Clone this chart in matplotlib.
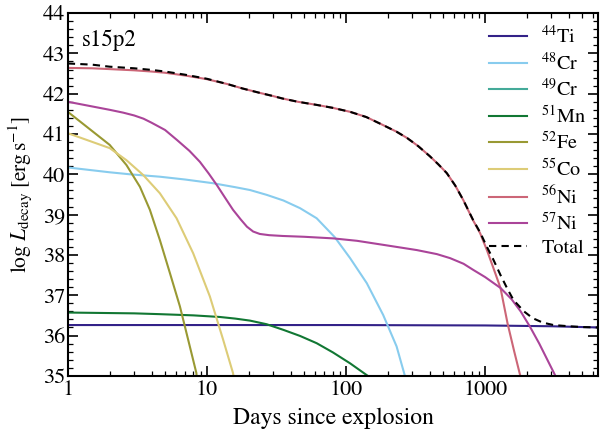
import matplotlib
matplotlib.use("Agg")
import matplotlib.pyplot as plt
import numpy as np
from matplotlib.ticker import MultipleLocator, LogLocator, NullFormatter

plt.rcParams['font.family'] = ['STIXGeneral', 'DejaVu Serif']
plt.rcParams['mathtext.fontset'] = 'stix'

# values (days, log L)
ti44_t = [1, 10, 100, 1000, 3000, 6500]
ti44_L = [36.26, 36.26, 36.26, 36.25, 36.23, 36.20]

cr48_t = [1, 2, 2.8, 4.6, 7, 11, 16, 20.4, 26.9, 35.5, 46.7, 61.5, 83, 107, 141, 185, 231, 266]
cr48_L = [40.17, 40.05, 40.0, 39.94, 39.87, 39.78, 39.68, 39.61, 39.49, 39.35, 39.16, 38.91,
          38.44, 37.92, 37.30, 36.51, 35.73, 34.98]

cr49_t = [1, 2, 5]
cr49_L = [34.5, 34.0, 33.0]

mn51_t = [1, 3, 4.6, 8, 12.4, 16, 20.4, 26.9, 35.5, 46.7, 61.5, 80.6, 107, 146]
mn51_L = [36.57, 36.55, 36.53, 36.50, 36.46, 36.42, 36.37, 36.28, 36.14, 35.99, 35.81,
          35.58, 35.31, 34.98]

fe52_t = [1, 2.0, 2.64, 3.30, 3.89, 4.59, 5.42, 6.40, 7.34, 8.4, 8.55]
fe52_L = [41.55, 40.73, 40.23, 39.69, 39.12, 38.37, 37.55, 36.72, 35.89, 35.07, 34.7]

co55_t = [1, 2.0, 2.64, 3.49, 4.59, 6.05, 7.97, 10.5, 13.1, 15.4, 15.8]
co55_L = [41.02, 40.65, 40.35, 39.98, 39.53, 38.91, 38.04, 36.97, 35.89, 35.07, 34.85]

ni56_t = [1, 1.5, 2, 3, 4, 5, 7, 10, 14, 18, 24, 30, 35, 45, 62, 80, 107, 140, 185, 230,
          275, 330, 400, 460, 530, 610, 697, 816, 920, 1030, 1140, 1290, 1450, 1620, 1790]
ni56_L = [42.64, 42.63, 42.61, 42.58, 42.55, 42.52, 42.45, 42.36, 42.24, 42.13, 42.02, 41.94,
          41.88, 41.80, 41.72, 41.65, 41.55, 41.42, 41.22, 41.06, 40.90, 40.70, 40.45, 40.25,
          40.03, 39.72, 39.36, 38.87, 38.54, 38.12, 37.70, 37.18, 36.30, 35.60, 35.0]

ni57_t = [1, 2, 2.5, 3, 3.5, 4, 5, 6.1, 7.5, 8.9, 10.3, 11.8, 13.5, 15.4, 17.5, 19.4, 21.5,
          24, 28, 35, 50, 81, 120, 185, 250, 323, 450, 560, 700, 820, 1000, 1290, 1550,
          1800, 2100, 2450, 2800, 3200]
ni57_L = [41.8, 41.6, 41.53, 41.46, 41.38, 41.28, 41.1, 40.85, 40.58, 40.31, 40.02, 39.73,
          39.42, 39.12, 38.88, 38.70, 38.58, 38.52, 38.49, 38.47, 38.45, 38.41, 38.35, 38.25,
          38.18, 38.12, 38.02, 37.92, 37.78, 37.63, 37.45, 37.18, 36.9, 36.6, 36.22, 35.8,
          35.4, 35.0]

tot_t = [1, 1.5, 2, 3, 4, 5, 7, 10, 14, 18, 24, 30, 35, 45, 62, 80, 107, 140, 185, 230,
         275, 330, 400, 460, 530, 610, 697, 816, 920, 1030, 1140, 1290, 1450, 1600, 1900,
         2200, 2600, 3100, 4000, 5000, 6500]
tot_L = [42.75, 42.72, 42.67, 42.63, 42.59, 42.55, 42.47, 42.37, 42.24, 42.13, 42.02, 41.94,
         41.88, 41.80, 41.72, 41.65, 41.55, 41.42, 41.22, 41.06, 40.90, 40.70, 40.45, 40.25,
         40.03, 39.72, 39.36, 38.88, 38.56, 38.20, 37.90, 37.50, 37.15, 36.88, 36.60, 36.43,
         36.32, 36.26, 36.23, 36.21, 36.20]

series = [
    (ti44_t, ti44_L, r'$^{44}$Ti', '#332288'),
    (cr48_t, cr48_L, r'$^{48}$Cr', '#88CCEE'),
    (cr49_t, cr49_L, r'$^{49}$Cr', '#44AA99'),
    (mn51_t, mn51_L, r'$^{51}$Mn', '#117733'),
    (fe52_t, fe52_L, r'$^{52}$Fe', '#999933'),
    (co55_t, co55_L, r'$^{55}$Co', '#DDCC77'),
    (ni56_t, ni56_L, r'$^{56}$Ni', '#CC6677'),
    (ni57_t, ni57_L, r'$^{57}$Ni', '#AA4499'),
]

fig = plt.figure(figsize=(6, 4.36), dpi=100)
ax = fig.add_axes([0.113, 0.138, 0.884, 0.832])

for t, L, lab, c in series:
    ax.plot(t, L, color=c, lw=1.5, label=lab)
ax.plot(tot_t, tot_L, color='black', lw=1.5, ls=(0, (3.5, 2.5)), label='Total')

ax.set_xscale('log')
ax.set_xlim(1, 6500)
ax.set_ylim(35, 44)
ax.xaxis.set_minor_locator(LogLocator(base=10, subs=np.arange(2, 10)))
ax.xaxis.set_minor_formatter(NullFormatter())
ax.set_xticks([1, 10, 100, 1000])
ax.set_xticklabels(['1', '10', '100', '1000'])
ax.yaxis.set_major_locator(MultipleLocator(1))
ax.yaxis.set_minor_locator(MultipleLocator(0.2))

ax.tick_params(which='both', direction='in', top=True, right=True, labelsize=16, colors='black')
ax.tick_params(which='major', length=7, width=1.2)
ax.tick_params(which='minor', length=3.5, width=0.9)
ax.tick_params(axis='y', pad=2)
for s in ax.spines.values():
    s.set_linewidth(1.5)

ax.set_xlabel('Days since explosion', fontsize=17, labelpad=5)
ax.set_ylabel(r'$\log\,L_{\rm decay}\;[\rm erg\,s^{-1}]$', fontsize=15.5, labelpad=6)
ax.text(0.026, 0.955, 's15p2', transform=ax.transAxes, fontsize=16.5, va='top', ha='left')

ax.legend(loc='upper right', frameon=False, fontsize=14.5, handlelength=1.9,
          labelspacing=0.22, borderaxespad=0.2, handletextpad=0.7)

fig.savefig('out.png', dpi=100)
